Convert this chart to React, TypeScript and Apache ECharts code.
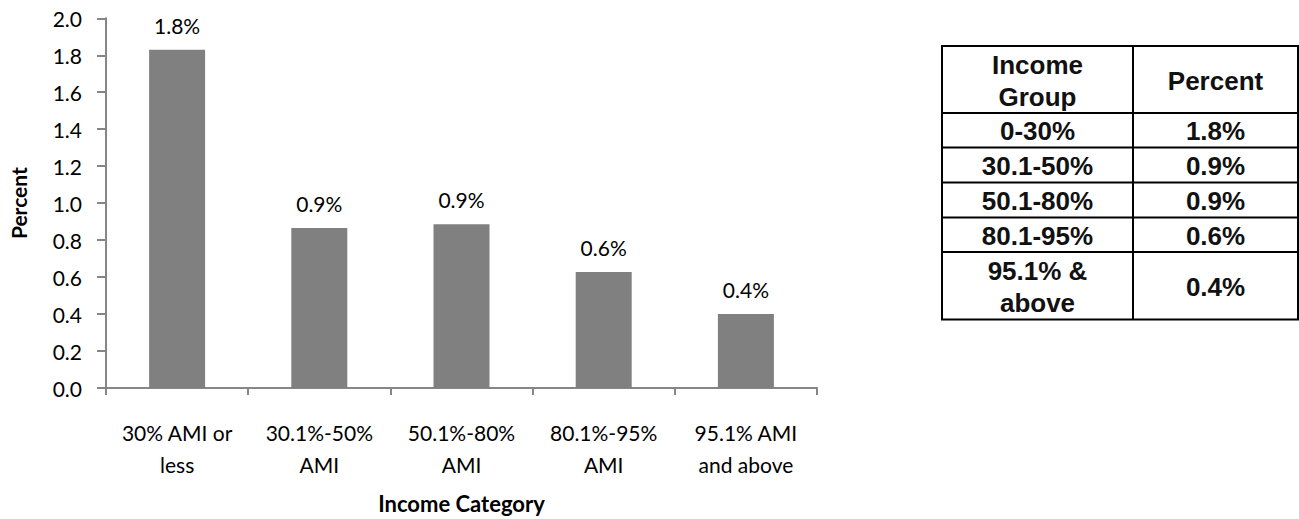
import React, { useEffect, useRef } from "react";
import * as echarts from "echarts";

const categories = ["30% AMI or\nless", "30.1%-50%\nAMI", "50.1%-80%\nAMI", "80.1%-95%\nAMI", "95.1% AMI\nand above"];
const values = [1.83, 0.865, 0.886, 0.628, 0.4];
const yTicks = { min: 0, max: 2.0, interval: 0.2 };

const tableHeader = ["Income\nGroup", "Percent"];
const tableGroups = ["0-30%", "30.1-50%", "50.1-80%", "80.1-95%", "95.1% &\nabove"];
const tablePercents = ["1.8%", "0.9%", "0.9%", "0.6%", "0.4%"];

// table layout
const colX = [942, 1133, 1298];
const rowY = [46, 113, 147.5, 182.5, 217.5, 252, 319.5];

export default function App() {
  const ref = useRef<HTMLDivElement>(null);
  useEffect(() => {
    if (!ref.current) return;
    const chart = echarts.init(ref.current, undefined, { renderer: "svg" });
    const font = "Lato, 'Noto Sans', sans-serif";
    const tfont = "'Liberation Sans', Arial, sans-serif";
    const graphics: any[] = [];
    rowY.forEach((y) => {
      graphics.push({
        type: "line",
        shape: { x1: colX[0] - 1, y1: y, x2: colX[2] + 1, y2: y },
        style: { stroke: "#000", lineWidth: 2 },
      });
    });
    colX.forEach((x) => {
      graphics.push({
        type: "line",
        shape: { x1: x, y1: rowY[0], x2: x, y2: rowY[rowY.length - 1] },
        style: { stroke: "#000", lineWidth: 2 },
      });
    });
    const cell = (text: string, c: number, r: number) => ({
      type: "text",
      x: (colX[c] + colX[c + 1]) / 2,
      y: (rowY[r] + rowY[r + 1]) / 2 + 1,
      style: {
        text,
        fill: "#111",
        font: `bold 26px ${tfont}`,
        lineHeight: 32,
        align: "center",
        verticalAlign: "middle",
      },
    });
    graphics.push(cell(tableHeader[0], 0, 0));
    graphics.push(cell(tableHeader[1], 1, 0));
    tableGroups.forEach((g, i) => {
      graphics.push(cell(g, 0, i + 1));
      graphics.push(cell(tablePercents[i], 1, i + 1));
    });

    chart.setOption({
      animation: false,
      grid: { left: 101, right: 482, top: 18.3, bottom: 129.7, containLabel: false },
      xAxis: {
        type: "category",
        data: categories,
        name: "Income Category",
        nameLocation: "middle",
        nameGap: 104,
        nameTextStyle: { fontFamily: font, fontWeight: "bold", fontSize: 22, color: "#000", verticalAlign: "top" },
        axisLine: { lineStyle: { color: "#868686", width: 2 } },
        axisTick: { show: true, length: 7, alignWithLabel: false, lineStyle: { color: "#868686", width: 2 } },
        axisLabel: { fontFamily: font, fontSize: 21, color: "#000", lineHeight: 32, margin: 28, interval: 0 },
      },
      yAxis: {
        type: "value",
        min: yTicks.min,
        max: yTicks.max,
        interval: yTicks.interval,
        name: "Percent",
        nameLocation: "middle",
        nameGap: 77,
        nameRotate: 90,
        nameTextStyle: { fontFamily: font, fontWeight: "bold", fontSize: 21, color: "#000" },
        splitLine: { show: false },
        axisLine: { show: true, lineStyle: { color: "#868686", width: 2 } },
        axisTick: { show: true, length: 9, lineStyle: { color: "#868686", width: 2 } },
        axisLabel: {
          fontFamily: font,
          fontSize: 21,
          color: "#000",
          margin: 24,
          formatter: (v: number) => v.toFixed(1),
        },
      },
      series: [
        {
          type: "bar",
          data: values,
          barWidth: 56,
          itemStyle: { color: "#808080" },
          label: {
            show: true,
            position: "top",
            distance: 14,
            fontFamily: font,
            fontSize: 21,
            color: "#000",
            formatter: (p: any) => p.value.toFixed(1) + "%",
          },
        },
      ],
      graphic: graphics,
    });
    return () => chart.dispose();
  }, []);
  return (
    <div
      ref={ref}
      style={{ position: "fixed", left: 0, top: 0, width: 1299, height: 519, background: "#fff" }}
    />
  );
}
